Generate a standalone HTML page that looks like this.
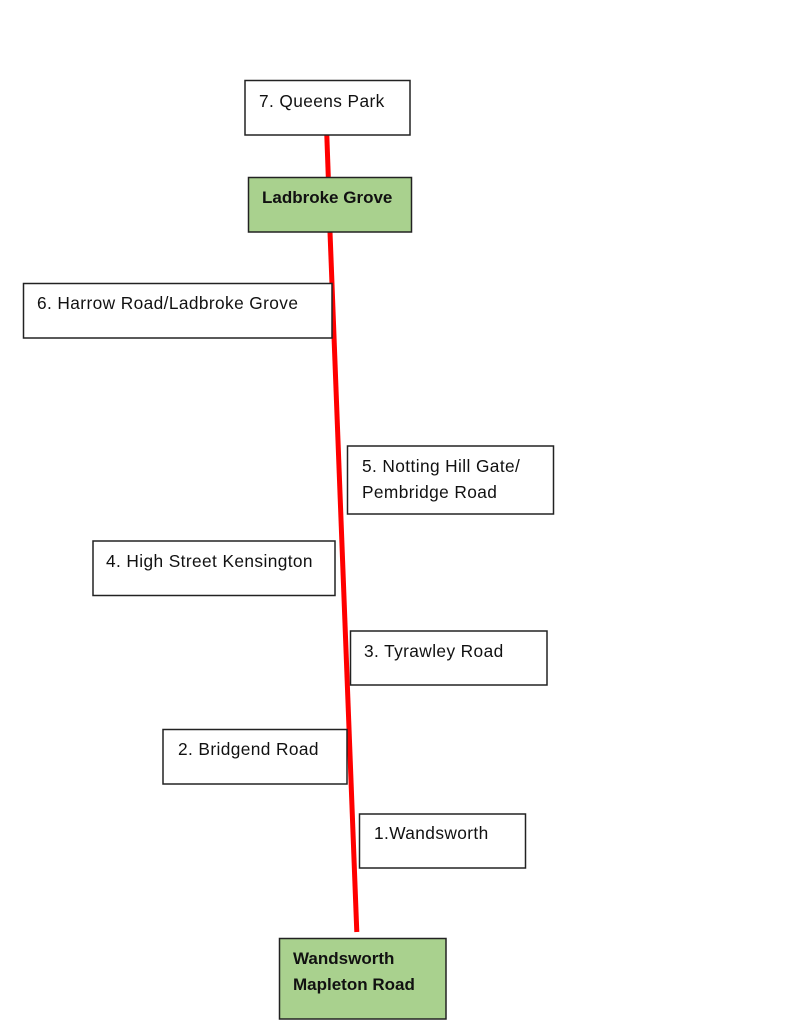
<!DOCTYPE html>
<html>
<head>
<meta charset="utf-8">
<style>
html,body{margin:0;padding:0;background:#fff;}
svg{display:block;}
text{font-family:"Liberation Sans",Arial,sans-serif;fill:#111;}
.r{font-size:17.3px;letter-spacing:0.4px;}
.b{font-size:17px;font-weight:bold;}
</style>
</head>
<body>
<svg width="812" height="1023" viewBox="0 0 812 1023" xmlns="http://www.w3.org/2000/svg">
<rect width="812" height="1023" fill="#fff"/>
<!-- red lines -->
<line x1="326.8" y1="135" x2="328.3" y2="177" stroke="#f00" stroke-width="5"/>
<line x1="330" y1="232" x2="356.8" y2="932" stroke="#f00" stroke-width="5"/>

<g stroke="#222" stroke-width="1.5">
<rect x="245" y="80.5" width="165" height="54.5" fill="#fff"/>
<rect x="248.5" y="177.5" width="163" height="54.5" fill="#a9d18e"/>
<rect x="23.5" y="283.5" width="308.5" height="54.5" fill="#fff"/>
<rect x="347.5" y="446" width="206" height="68" fill="#fff"/>
<rect x="93" y="541" width="242" height="54.5" fill="#fff"/>
<rect x="350.5" y="631" width="196.5" height="54" fill="#fff"/>
<rect x="163" y="729.5" width="184" height="54.5" fill="#fff"/>
<rect x="359.5" y="814" width="166" height="54" fill="#fff"/>
<rect x="279.5" y="938.5" width="166.5" height="80.5" fill="#a9d18e"/>
</g>

<text class="r" x="259" y="107">7. Queens Park</text>
<text class="b" x="262" y="203">Ladbroke Grove</text>
<text class="r" x="37" y="309">6. Harrow Road/Ladbroke Grove</text>
<text class="r" x="362" y="472">5. Notting Hill Gate/</text>
<text class="r" x="362" y="498">Pembridge Road</text>
<text class="r" x="106" y="567">4. High Street Kensington</text>
<text class="r" x="364" y="657">3. Tyrawley Road</text>
<text class="r" x="178" y="755">2. Bridgend Road</text>
<text class="r" x="374" y="839">1.Wandsworth</text>
<text class="b" x="293" y="964">Wandsworth</text>
<text class="b" x="293" y="990">Mapleton Road</text>
</svg>
</body>
</html>
